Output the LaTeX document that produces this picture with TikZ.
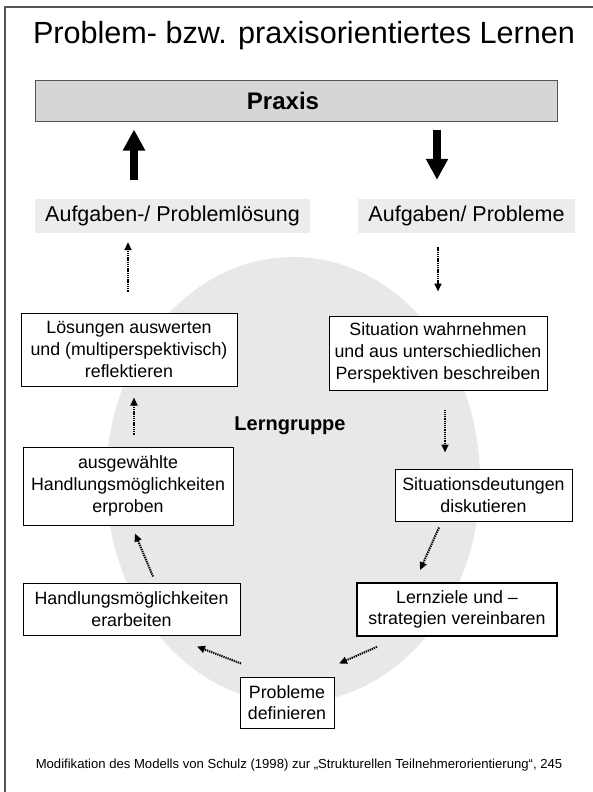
\documentclass[tikz,border=0pt]{standalone}
\usepackage{fontspec}
\setmainfont{Liberation Sans}
\usetikzlibrary{arrows.meta,calc}
\definecolor{ellgray}{HTML}{E8E8E8}
\definecolor{labgray}{HTML}{ECECEC}
\definecolor{praxgray}{HTML}{D6D6D6}
\definecolor{framegray}{HTML}{555555}
\tikzset{
  stepbox/.style={draw=black, line width=1pt, fill=white, align=center, inner sep=0pt,
    font=\fontsize{17.8}{21.7}\selectfont},
  labbox/.style={fill=labgray, inner sep=0pt, font=\fontsize{21.5}{25}\selectfont},
  dotarrow/.style={line width=2pt, dash pattern=on 1.3pt off 0.9pt,
    -{Triangle[width=7pt,length=8pt]}},
  bigarrow/.style={line width=8pt, -{Triangle[width=21pt,length=21pt]}},
}
\begin{document}
\begin{tikzpicture}[x=1pt,y=-1pt]
\useasboundingbox (0,0) rectangle (593,792);
\fill[white] (0,0) rectangle (593,792);
% frame
\draw[framegray, line width=1.5pt] (5,792) -- (5,7) -- (593,7);
% ellipse
\fill[ellgray] (293,480) ellipse [x radius=187pt, y radius=223pt];
% title
\node[anchor=base, font=\fontsize{30.6}{35}\selectfont] (title) at (304,44) {Problem- bzw. praxisorientiertes Lernen};
% Praxis
\node[draw=framegray, fill=praxgray, line width=1pt, minimum width=522pt, minimum height=41pt, inner sep=0pt] (praxis) at (296,100.5) {};
\node[font=\fontsize{24}{28}\selectfont\bfseries] (praxislabel) at (283,101) {Praxis};
% label boxes
\node[labbox, minimum width=275pt, minimum height=34pt] (auf1) at (172.5,216) {Aufgaben-/ Problemlösung};
\node[labbox, minimum width=217pt, minimum height=34pt] (auf2) at (466.5,216) {Aufgaben/ Probleme};
% step boxes
\node[stepbox, minimum width=216pt, minimum height=73pt] (lsg) at (129,349.5) {Lösungen auswerten\\und (multiperspektivisch)\\reflektieren};
\node[stepbox, minimum width=218pt, minimum height=74pt] (sit) at (438,353) {Situation wahrnehmen\\und aus unterschiedlichen\\Perspektiven beschreiben};
\node[stepbox, minimum width=210pt, minimum height=78pt] (ausg) at (128,486) {ausgewählte\\Handlungsmöglichkeiten\\erproben};
\node[stepbox, minimum width=177pt, minimum height=52pt] (sitd) at (483.5,495) {Situationsdeutungen\\diskutieren};
\node[stepbox, minimum width=217pt, minimum height=52pt] (handl) at (131.5,609) {Handlungsmöglichkeiten\\erarbeiten};
\node[stepbox, line width=1.6pt, minimum width=200pt, minimum height=53pt] (lern) at (457,609.5) {Lernziele und –\\strategien vereinbaren};
\node[stepbox, minimum width=94pt, minimum height=51pt] (prob) at (287,702.5) {Probleme\\definieren};
% center label
\node[font=\fontsize{20}{24}\selectfont\bfseries] (lg) at (290,426) {Lerngruppe};
% footnote
\node[anchor=base, font=\fontsize{13.1}{16}\selectfont] (foot) at (299,768) {Modifikation des Modells von Schulz (1998) zur „Strukturellen Teilnehmerorientierung“, 245};
% thick arrows
\draw[bigarrow, shorten <=19pt, shorten >=8pt] ($(auf1.north)+(-38.5,0)$) -- ($(auf1.north |- praxis.south)+(-38.5,0)$);
\draw[bigarrow, shorten <=8pt, shorten >=19pt] ($(auf2.north |- praxis.south)+(-29.5,0)$) -- ($(auf2.north)+(-29.5,0)$);
% dotted arrows
\draw[dotarrow, shorten <=21pt, shorten >=9pt] ($(lsg.north)+(-1,0)$) -- ($(auf1.south -| lsg.north)+(-1,0)$);
\draw[dotarrow, shorten <=14pt, shorten >=24pt] (auf2.south -| sit.north) -- (sit.north);
\draw[dotarrow, shorten <=19pt, shorten >=16pt] ($(sit.south)+(7,0)$) -- ($(sitd.north -| sit.south)+(7,0)$);
\draw[dotarrow] ($(sitd.south)+(-44.5,6)$) -- ($(lern.north)+(-37,-12)$);
\draw[dotarrow] ($(lern.south)+(-80,10)$) -- ($(prob.north)+(52,-13)$);
\draw[dotarrow] ($(prob.north)+(-46,-13)$) -- ($(handl.south)+(65.5,11)$);
\draw[dotarrow] ($(handl.north)+(21.5,-6)$) -- ($(ausg.south)+(7,8)$);
\draw[dotarrow, shorten <=12pt, shorten >=11pt] ($(ausg.north)+(6,0)$) -- ($(lsg.south -| ausg.north)+(6,0)$);
\end{tikzpicture}
\end{document}
